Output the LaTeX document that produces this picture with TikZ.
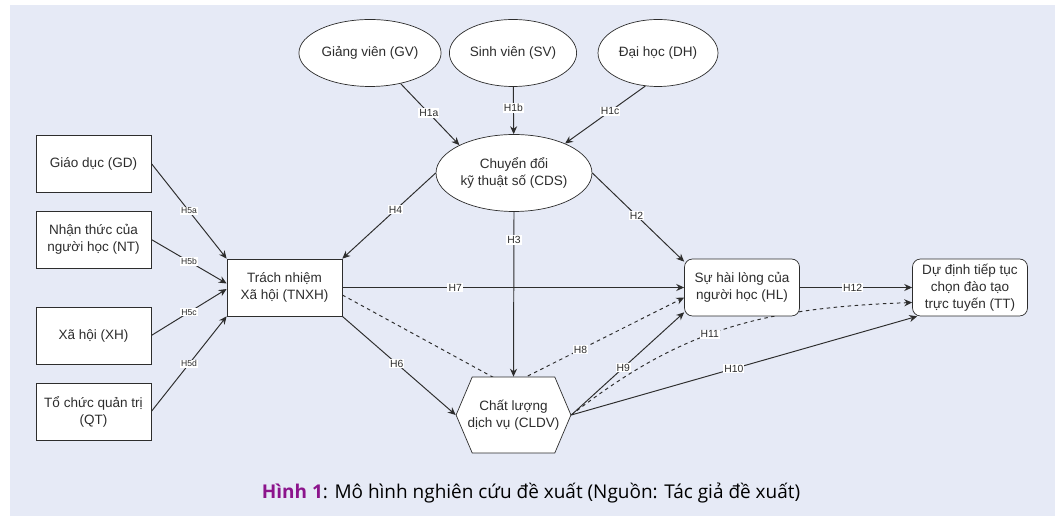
\documentclass[tikz,border=0pt]{standalone}
\usepackage{fontspec}
\setmainfont{Liberation Sans}
\newfontfamily\capfont{Open Sans}
\usepackage{tikz}
\usetikzlibrary{arrows.meta}
\usetikzlibrary{calc, positioning, shapes.geometric, shapes.symbols}
\definecolor{panel}{RGB}{230,234,246}
\definecolor{ink}{RGB}{45,45,45}
\definecolor{figred}{RGB}{140,20,140}
\pgfdeclarelayer{bg}
\pgfsetlayers{bg,main}
\tikzset{
    txt/.style={font=\fontsize{7.7}{9.7}\selectfont, text=ink, align=center},
    oval/.style={txt, ellipse, draw=ink, fill=white, minimum width=2.32cm, minimum height=1.34cm, inner sep=1pt},
    box/.style={txt, rectangle, draw=ink, fill=white, minimum width=2.3cm, minimum height=1.14cm, inner sep=1pt},
    rbox/.style={box, rounded corners=0.16cm},
    hexa/.style={txt, signal, signal to=east and west, signal pointer angle=134, draw=ink, fill=white, minimum height=1.52cm, inner xsep=-2.6pt, inner ysep=1pt},
    link/.style={draw=ink, line width=0.55pt, -{Stealth[length=4.5pt,width=4pt]}},
    dlink/.style={link, dash pattern=on 2pt off 2pt},
    hyp/.style={fill=white, inner sep=0.6pt, font=\fontsize{5.9}{6}\selectfont, text=ink},
    hypsm/.style={hyp, font=\fontsize{4.9}{5}\selectfont}
}
\begin{document}
\begin{tikzpicture}[x=0.02cm, y=-0.02cm]
    \useasboundingbox (0,0) rectangle (1058,516);
    \begin{pgfonlayer}{bg}
    \fill[panel] (10,5) rectangle (1055,516);
    \end{pgfonlayer}
    % top row
    \node[oval] (gv) at (370,53) {Giảng viên (GV)};
    \node[oval, minimum width=2.34cm] (sv) at (513,53) {Sinh viên (SV)};
    \node[oval, minimum width=2.4cm] (dh) at (658,53) {Đại học (DH)};
    \node[oval, minimum width=2.92cm, minimum height=1.54cm] (cds) at (514,173) {Chuyển đổi\\kỹ thuật số (CDS)};
    % left column
    \node[box] (gd) at (93.5,163.5) {Giáo dục (GD)};
    \node[box] (nt) at (93.5,239.5) {Nhận thức của\\người học (NT)};
    \node[box] (xh) at (93.5,335.5) {Xã hội (XH)};
    \node[box] (qt) at (93.5,411.5) {Tổ chức quản trị\\(QT)};
    \node[box] (tnxh) at (284.5,287.5) {Trách nhiệm\\Xã hội (TNXH)};
    \node[hexa] (cldv) at (513.5,415) {Chất lượng\\dịch vụ (CLDV)};
    \node[rbox] (hl) at (742,287.5) {Sự hài lòng của\\người học (HL)};
    \node[rbox] (tt) at (970,287.5) {Dự định tiếp tục\\chọn đào tạo\\trực tuyến (TT)};
    \node[font=\capfont\fontsize{10.8}{12}\selectfont] (cap) at (531,493) {{\color{figred}\bfseries Hình 1}: Mô hình nghiên cứu đề xuất (Nguồn: Tác giả đề xuất)};
    \begin{pgfonlayer}{bg}
    \draw[link] (gv.-45) -- node[hyp, pos=0.48]{H1a} (cds.153);
    \draw[link] (sv) -- node[hyp, pos=0.44]{H1b} (cds);
    \draw[link] (dh.-111) -- node[hyp, pos=0.44]{H1c} (cds.30);
    \draw[link] (cds.west) -- node[hyp, pos=0.43]{H4} (tnxh.north east);
    \draw[link] (cds.south) -- node[hyp, pos=0.17]{H3} (cldv.north);
    \draw[link] (cds.east) -- node[hyp, pos=0.48]{H2} ($(hl.north west)+(0,3)$);
    \draw[link] (gd.east) -- node[hypsm]{H5a} (tnxh.north west);
    \draw[link] (nt.east) -- node[hypsm]{H5b} ($(tnxh.west)+(0,-4)$);
    \draw[link] (xh.east) -- node[hypsm]{H5c} ($(tnxh.west)+(0,1.5)$);
    \draw[link] (qt.east) -- node[hypsm]{H5d} (tnxh.south west);
    \draw[link] (tnxh) -- node[hyp, pos=0.33]{H7} (hl);
    \draw[link] (tnxh.south east) -- node[hyp, pos=0.48]{H6} (cldv.west);
    \draw[dlink] ($(tnxh.east)+(0,7.5)$) -- ($(cldv.north)+(-5,9)$) -- node[hyp, pos=0.41]{H8} ($(hl.west)+(0,10)$);
    \draw[link] (cldv.east) -- node[hyp, pos=0.46]{H9} ($(hl.south west)+(0,-4)$);
    \draw[link] (cldv.east) -- node[hyp, pos=0.47]{H10} ($(tt.south west)+(5,0)$);
    \draw[dlink] (cldv.east) .. controls (680,330) and (760,308) .. node[hyp, pos=0.45]{H11} ($(tt.west)+(0,15)$);
    \draw[link] (hl) -- node[hyp, pos=0.47]{H12} (tt);
    \end{pgfonlayer}
\end{tikzpicture}
\end{document}
